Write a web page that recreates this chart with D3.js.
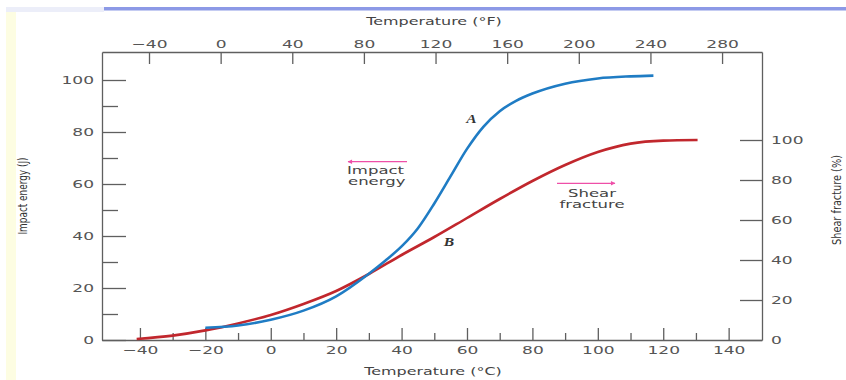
<!DOCTYPE html>
<html>
<head>
<meta charset="utf-8">
<script src="https://cdn.jsdelivr.net/npm/d3@7"></script>
<style>
  html, body { margin: 0; padding: 0; background: #fff; }
  svg { display: block; font-family: "DejaVu Sans", sans-serif; }
</style>
</head>
<body>
<script>
// curve A: impact energy (J) vs temperature (°C)
const tempA = [-20, -10, 0, 10, 20, 30, 35, 40, 45, 50, 55, 60, 65, 70, 75, 80, 90, 100, 110, 117]
const energyA = [4.7, 5.6, 7.8, 11.3, 16.8, 25.5, 30.5, 36, 43, 52.5, 63, 73.5, 82, 88, 92, 94.8, 98.6, 100.6, 101.4, 101.7]

// curve B: shear fracture (%) vs temperature (°C)
const tempB = [-41, -30, -20, -10, 0, 10, 20, 30, 40, 50, 60, 70, 80, 90, 100, 110, 120, 130.5]
const shearB = [0.5, 2.2, 4.8, 8.3, 12.5, 18, 24.5, 33, 42.5, 51.5, 61, 70.5, 79.5, 87.5, 94, 98.2, 99.7, 100]

const ticksC = [-40, -20, 0, 20, 40, 60, 80, 100, 120, 140]
const minorC = [-30, -10, 10, 30, 50, 70, 90, 110, 130]
const ticksF = [-40, 0, 40, 80, 120, 160, 200, 240, 280]
const ticksJ = [0, 20, 40, 60, 80, 100]
const minorJ = [10, 30, 50, 70, 90]
const ticksS = [0, 20, 40, 60, 80, 100]

const W = 846, H = 380
const SX = 1.55 // the source text is stretched sideways
const axisColor = '#5f5f5f'
const textColor = '#555'

const svg = d3.select('body').append('svg')
    .attr('width', W)
    .attr('height', H)

// bits of the screenshot frame
svg.append('rect').attr('x', 6).attr('y', 12).attr('width', 10).attr('height', H - 12).attr('fill', '#fdfde2')
svg.append('rect').attr('x', 6).attr('y', 7).attr('width', 98).attr('height', 5).attr('fill', '#eceef9')
svg.append('rect').attr('x', 104).attr('y', 7).attr('width', W - 104).attr('height', 3.5).attr('fill', '#8c99e6')

const pLeft = 102, pRight = 762, pTop = 52, pBottom = 340

const xC = d3.scaleLinear().domain([-51.6, 150.2]).range([pLeft, pRight])
const xF = d3.scaleLinear().domain([-66.25, 302.3]).range([pLeft, pRight])
const yJ = d3.scaleLinear().domain([0, 110.77]).range([pBottom, pTop])
const yS = d3.scaleLinear().domain([0, 144]).range([pBottom, pTop])

const styleAxis = (g) => {
    g.selectAll('path, line').attr('stroke', axisColor).attr('stroke-width', 1.3)
    g.selectAll('text').attr('fill', textColor).attr('font-size', 11)
        .attr('font-family', '"DejaVu Sans", sans-serif')
        .attr('transform', `scale(${SX},1)`)
}

// bottom °C
svg.append('g').attr('transform', `translate(0,${pBottom})`)
    .call(d3.axisBottom(xC).tickValues(ticksC).tickSize(-12).tickSizeOuter(0).tickPadding(6))
    .call(styleAxis)
svg.append('g').attr('transform', `translate(0,${pBottom})`)
    .call(d3.axisBottom(xC).tickValues(minorC).tickSize(-7).tickFormat(''))
    .call(styleAxis)
    .call(g => g.select('.domain').remove())

// top °F
svg.append('g').attr('transform', `translate(0,${pTop})`)
    .call(d3.axisTop(xF).tickValues(ticksF).tickSize(-12).tickSizeOuter(0).tickPadding(4))
    .call(styleAxis)

// left J
svg.append('g').attr('transform', `translate(${pLeft},0)`)
    .call(d3.axisLeft(yJ).tickValues(ticksJ).tickSize(-24).tickSizeOuter(0))
    .call(styleAxis)
    .call(g => g.selectAll('text').attr('x', -8 / SX))
svg.append('g').attr('transform', `translate(${pLeft},0)`)
    .call(d3.axisLeft(yJ).tickValues(minorJ).tickSize(-16).tickFormat(''))
    .call(styleAxis)
    .call(g => g.select('.domain').remove())

// right shear %
svg.append('g').attr('transform', `translate(${pRight},0)`)
    .call(d3.axisRight(yS).tickValues(ticksS).tickSize(-22).tickSizeOuter(0))
    .call(styleAxis)
    .call(g => g.selectAll('text').attr('x', 9 / SX))

// axis titles
const label = (x, y, txt, opts = {}) => svg.append('text')
    .attr('transform', `translate(${x},${y}) scale(${opts.sx ?? SX},1)`)
    .attr('text-anchor', opts.anchor ?? 'middle')
    .attr('font-size', opts.size ?? 11)
    .attr('font-family', opts.family ?? '"DejaVu Sans", sans-serif')
    .attr('font-style', opts.italic ? 'italic' : null)
    .attr('font-weight', opts.bold ? 'bold' : null)
    .attr('fill', opts.fill ?? '#444')
    .text(txt)

label(434, 25, 'Temperature (°F)', {sx: 1.45})
label(433, 375, 'Temperature (°C)', {sx: 1.45})

svg.append('text')
    .attr('transform', 'translate(27,196) rotate(-90)')
    .attr('text-anchor', 'middle')
    .attr('font-size', 13)
    .attr('font-family', '"DejaVu Sans Condensed", "DejaVu Sans", sans-serif')
    .attr('textLength', 77).attr('lengthAdjust', 'spacingAndGlyphs')
    .attr('fill', '#333')
    .text('Impact energy (J)')
svg.append('text')
    .attr('transform', 'translate(841,200) rotate(-90)')
    .attr('text-anchor', 'middle')
    .attr('font-size', 13)
    .attr('font-family', '"DejaVu Sans Condensed", "DejaVu Sans", sans-serif')
    .attr('textLength', 90).attr('lengthAdjust', 'spacingAndGlyphs')
    .attr('fill', '#333')
    .text('Shear fracture (%)')

// curves
const lineA = d3.line().x(i => xC(tempA[i])).y(i => yJ(energyA[i])).curve(d3.curveMonotoneX)
const lineB = d3.line().x(i => xC(tempB[i])).y(i => yS(shearB[i])).curve(d3.curveMonotoneX)

svg.append('path').attr('d', lineB(d3.range(tempB.length)))
    .attr('fill', 'none').attr('stroke', '#c1272d').attr('stroke-width', 2.6)
svg.append('path').attr('d', lineA(d3.range(tempA.length)))
    .attr('fill', 'none').attr('stroke', '#1f7cc4').attr('stroke-width', 2.6)

label(471.5, 123, 'A', {family: '"Liberation Serif", serif', italic: true, bold: true, size: 12, sx: 1.3, fill: '#333'})
label(449, 245.5, 'B', {family: '"Liberation Serif", serif', italic: true, bold: true, size: 12, sx: 1.3, fill: '#333'})

// pink arrows
const pink = '#ee4fa8'
svg.append('defs').append('marker')
    .attr('id', 'head')
    .attr('viewBox', '0 -5 10 10')
    .attr('refX', 9).attr('refY', 0)
    .attr('markerWidth', 8).attr('markerHeight', 4.5)
    .attr('markerUnits', 'userSpaceOnUse')
    .attr('orient', 'auto')
    .append('path').attr('d', 'M0,-5L10,0L0,5Z').attr('fill', pink)

svg.append('line').attr('x1', 407).attr('x2', 348).attr('y1', 161.7).attr('y2', 161.7)
    .attr('stroke', pink).attr('stroke-width', 1.2).attr('marker-end', 'url(#head)')
svg.append('line').attr('x1', 557).attr('x2', 615).attr('y1', 183.3).attr('y2', 183.3)
    .attr('stroke', pink).attr('stroke-width', 1.2).attr('marker-end', 'url(#head)')

label(347, 174, 'Impact', {anchor: 'start', sx: 1.5})
label(348, 185, 'energy', {anchor: 'start', sx: 1.5})
label(592, 197, 'Shear', {sx: 1.5})
label(592, 208, 'fracture', {sx: 1.5})
</script>
</body>
</html>
